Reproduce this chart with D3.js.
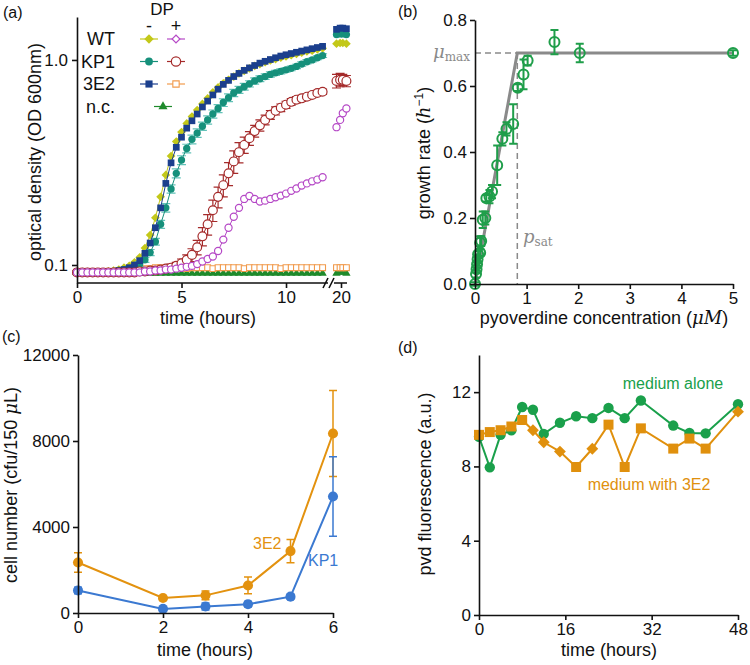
<!DOCTYPE html>
<html>
<head>
<meta charset="utf-8">
<script src="https://cdn.jsdelivr.net/npm/d3@7"></script>
<style>
  body { margin: 0; background: #fff; }
  svg { font-family: "Liberation Sans", Arial, sans-serif; }
</style>
</head>
<body>
<svg id="fig" width="750" height="665"></svg>
<script>
// ---------- (a) growth curves, OD 600nm ----------
var timesA = [0, 0.25, 0.5, 0.75, 1, 1.25, 1.5, 1.75, 2, 2.25, 2.5, 2.75, 3, 3.25, 3.5, 3.75,
  4, 4.25, 4.5, 4.75, 5, 5.25, 5.5, 5.75, 6, 6.25, 6.5, 6.75, 7, 7.25, 7.5, 7.75,
  8, 8.25, 8.5, 8.75, 9, 9.25, 9.5, 9.75, 10, 10.25, 10.5, 10.75, 11, 11.25, 11.5, 11.75];
var wtMinus = [0.092, 0.092, 0.092, 0.092, 0.092, 0.092, 0.093, 0.094, 0.095, 0.097, 0.099, 0.103, 0.109, 0.121, 0.140, 0.170,
  0.215, 0.275, 0.340, 0.400, 0.445, 0.49, 0.53, 0.57, 0.61, 0.65, 0.695, 0.735, 0.77, 0.80, 0.83, 0.86,
  0.885, 0.91, 0.935, 0.955, 0.975, 0.995, 1.01, 1.025, 1.04, 1.055, 1.07, 1.085, 1.10, 1.11, 1.125, 1.14];
var e2Minus = [0.092, 0.092, 0.092, 0.092, 0.092, 0.092, 0.092, 0.093, 0.094, 0.095, 0.097, 0.100, 0.105, 0.114, 0.128, 0.152,
  0.190, 0.250, 0.315, 0.375, 0.42, 0.465, 0.505, 0.545, 0.59, 0.63, 0.675, 0.72, 0.76, 0.795, 0.83, 0.86,
  0.89, 0.915, 0.94, 0.965, 0.985, 1.005, 1.025, 1.045, 1.06, 1.075, 1.09, 1.105, 1.12, 1.135, 1.15, 1.165];
var kp1Minus = [0.092, 0.092, 0.092, 0.092, 0.092, 0.092, 0.092, 0.093, 0.094, 0.095, 0.096, 0.098, 0.101, 0.106, 0.115, 0.130,
  0.158, 0.19, 0.235, 0.28, 0.325, 0.37, 0.41, 0.44, 0.475, 0.51, 0.545, 0.58, 0.62, 0.655, 0.69, 0.715,
  0.74, 0.765, 0.79, 0.81, 0.83, 0.85, 0.865, 0.88, 0.895, 0.91, 0.93, 0.955, 0.98, 1.0, 1.025, 1.05];
var kp1MinusErr = [0.002, 0.002, 0.002, 0.002, 0.002, 0.002, 0.002, 0.002, 0.002, 0.002, 0.002, 0.002, 0.003, 0.003, 0.004, 0.005,
  0.007, 0.009, 0.011, 0.014, 0.016, 0.018, 0.02, 0.021, 0.022, 0.024, 0.025, 0.026, 0.027, 0.028, 0.028, 0.028,
  0.028, 0.027, 0.027, 0.026, 0.026, 0.025, 0.025, 0.024, 0.024, 0.024, 0.023, 0.023, 0.023, 0.022, 0.022, 0.022];
var kp1Plus = [0.092, 0.092, 0.092, 0.092, 0.092, 0.092, 0.092, 0.092, 0.092, 0.092, 0.092, 0.092, 0.093, 0.093, 0.094, 0.094,
  0.095, 0.096, 0.097, 0.099, 0.102, 0.106, 0.112, 0.122, 0.138, 0.158, 0.185, 0.215, 0.245, 0.28, 0.32, 0.355,
  0.385, 0.415, 0.45, 0.48, 0.51, 0.54, 0.565, 0.585, 0.605, 0.625, 0.64, 0.65, 0.662, 0.675, 0.69, 0.70];
var kp1PlusErr = [0.002, 0.002, 0.002, 0.002, 0.002, 0.002, 0.002, 0.002, 0.002, 0.002, 0.002, 0.002, 0.002, 0.002, 0.002, 0.003,
  0.003, 0.003, 0.004, 0.004, 0.005, 0.006, 0.008, 0.01, 0.014, 0.018, 0.022, 0.025, 0.03, 0.036, 0.04, 0.04,
  0.035, 0.032, 0.03, 0.03, 0.028, 0.027, 0.026, 0.025, 0.024, 0.023, 0.022, 0.022, 0.021, 0.021, 0.02, 0.02];
var wtPlus = [0.092, 0.092, 0.092, 0.092, 0.092, 0.092, 0.092, 0.092, 0.092, 0.092, 0.092, 0.092, 0.092, 0.093, 0.093, 0.094,
  0.094, 0.095, 0.095, 0.096, 0.097, 0.098, 0.099, 0.101, 0.104, 0.107, 0.110, 0.117, 0.133, 0.152, 0.172, 0.19,
  0.21, 0.217, 0.21, 0.204, 0.206, 0.21, 0.214, 0.218, 0.223, 0.23, 0.236, 0.244, 0.25, 0.256, 0.261, 0.268];
var e2Plus = [0.092, 0.092, 0.092, 0.092, 0.092, 0.092, 0.093, 0.093, 0.094, 0.094, 0.095, 0.095, 0.096, 0.096, 0.096, 0.097,
  0.097, 0.096, 0.097, 0.097, 0.097, 0.096, 0.097, 0.097, 0.097, 0.097, 0.096, 0.097, 0.097, 0.097, 0.097, 0.097,
  0.096, 0.097, 0.097, 0.097, 0.097, 0.097, 0.097, 0.096, 0.097, 0.097, 0.097, 0.097, 0.097, 0.097, 0.097, 0.097];
var ncSeries = [0.092, 0.092, 0.092, 0.091, 0.091, 0.091, 0.091, 0.091, 0.091, 0.091, 0.091, 0.091, 0.091, 0.091, 0.091, 0.091,
  0.091, 0.091, 0.091, 0.091, 0.091, 0.091, 0.091, 0.091, 0.091, 0.091, 0.091, 0.091, 0.091, 0.091, 0.091, 0.091,
  0.091, 0.091, 0.091, 0.091, 0.091, 0.091, 0.091, 0.091, 0.091, 0.091, 0.091, 0.091, 0.091, 0.091, 0.091, 0.091];
// readings taken around 20 h (after the axis break)
var lateTimes = [19.75, 19.95, 20.1, 20.3];
var wtMinusLate = [1.20, 1.21, 1.21, 1.20];
var kp1MinusLate = [1.33, 1.34, 1.34, 1.33];
var e2MinusLate = [1.41, 1.43, 1.43, 1.42];
var kp1PlusLate = [0.79, 0.80, 0.80, 0.79];
var kp1PlusLateErr = [0.06, 0.06, 0.05, 0.05];
var wtPlusLate = [0.47, 0.51, 0.55, 0.58];
var e2PlusLate = [0.097, 0.097, 0.097, 0.097];
var ncLate = [0.091, 0.092, 0.092, 0.091];
var strainLabels = ["WT", "KP1", "3E2", "n.c."];
var ticksA_x = [0, 5, 10, 20];
var ticksA_y = [0.1, 1.0];

// ---------- (b) growth rate vs pyoverdine ----------
var pvdConc = [0, 0.02, 0.03, 0.04, 0.05, 0.06, 0.1, 0.1, 0.12, 0.15, 0.2, 0.22, 0.28, 0.33, 0.43, 0.53, 0.61, 0.74, 0.83, 0.94, 1.02, 1.54, 2.03, 5.0];
var growthRate = [0.0, 0.03, 0.045, 0.06, 0.075, 0.09, 0.095, 0.125, 0.13, 0.195, 0.2, 0.26, 0.265, 0.28, 0.36, 0.44, 0.47, 0.485, 0.595, 0.635, 0.677, 0.733, 0.70, 0.70];
var growthErr = [0.005, 0.01, 0.01, 0.01, 0.01, 0.01, 0.01, 0.02, 0.015, 0.025, 0.02, 0.01, 0.02, 0.02, 0.06, 0.02, 0.02, 0.06, 0.01, 0.045, 0.015, 0.037, 0.028, 0.008];
var fitConc = [0, 0.82, 5];
var fitRate = [0, 0.70, 0.70];
var muMax = 0.70, pSat = 0.82;
var ticksB_x = [0, 1, 2, 3, 4, 5];
var ticksB_y = [0, 0.2, 0.4, 0.6, 0.8];

// ---------- (c) cell number ----------
var timesC = [0, 2, 3, 4, 5, 6];
var e2Cells = [2350, 700, 820, 1280, 2880, 8350];
var e2CellsErr = [450, 60, 200, 390, 540, 2000];
var kp1Cells = [1050, 190, 300, 410, 760, 5420];
var kp1CellsErr = [150, 60, 160, 120, 110, 1850];
var ticksC_x = [0, 2, 4, 6];
var ticksC_y = [0, 4000, 8000, 12000];

// ---------- (d) pvd fluorescence ----------
var timesD = [0, 2, 4, 6, 8, 10, 12, 15, 18, 21, 24, 27, 30, 36, 39, 42, 48];
var aloneFluo = [9.6, 7.95, 9.7, 9.95, 11.2, 11.05, 9.75, 10.35, 10.7, 10.6, 11.15, 10.6, 11.55, 10.2, 9.8, 9.78, 11.35];
var withE2Fluo = [9.7, 9.85, 9.95, 10.15, 10.5, 9.95, 9.3, 8.8, 7.97, 8.95, 10.25, 7.97, 10.05, 8.96, 9.5, 8.96, 10.95];
var withE2Marker = ["s", "s", "s", "s", "s", "d", "d", "d", "s", "d", "s", "s", "s", "s", "s", "s", "d"];
var ticksD_x = [0, 16, 32, 48];
var ticksD_y = [0, 4, 8, 12];

var ink = "#111";
var svg = d3.select("#fig");

function styleAxis(g) {
  g.selectAll("path, line").attr("stroke", ink).attr("stroke-width", 1.6);
  g.selectAll("text").attr("font-size", 17).attr("fill", ink);
}

function errBars(g, xs, ys, es, x, y, color, cap, width) {
  g.selectAll(null).data(xs).enter().append("path")
    .attr("d", function (d, i) {
      var px = x(d), y0 = y(ys[i] - es[i]), y1 = y(ys[i] + es[i]);
      return "M" + px + "," + y0 + "V" + y1 +
        "M" + (px - cap) + "," + y0 + "H" + (px + cap) +
        "M" + (px - cap) + "," + y1 + "H" + (px + cap);
    })
    .attr("fill", "none").attr("stroke", color).attr("stroke-width", width || 1.2);
}

function seriesLine(g, xs, ys, x, y, color, w) {
  var pts = xs.map(function (d, i) { return [x(d), y(ys[i])]; });
  g.append("path").attr("d", d3.line()(pts))
    .attr("fill", "none").attr("stroke", color).attr("stroke-width", w || 1);
}

function marks(g, xs, ys, x, y, type, size, fill, stroke, sw, rot) {
  var sym = d3.symbol().type(type).size(size);
  g.selectAll(null).data(xs).enter().append("path")
    .attr("d", sym)
    .attr("transform", function (d, i) {
      return "translate(" + x(d) + "," + y(ys[i]) + ")" + (rot ? " rotate(45)" : "");
    })
    .attr("fill", fill).attr("stroke", stroke).attr("stroke-width", sw || 0);
}

// =============== panel (a) ===============
var gA = svg.append("g");
var xA = d3.scaleLinear().domain([0, 12.2, 19.5, 20.5]).range([77, 332, 332, 350]);
var yA = d3.scaleLog().domain([0.0817, 1.62]).range([283, 17]);

var colA = {
  wtM: "#c3c819", wtP: "#b548c6", kpM: "#16907b", kpP: "#a52b2b",
  e2M: "#1b3f8d", e2P: "#f19a4c", nc: "#1e8a2b"
};

var series = [
  { t: timesA, v: ncSeries, vl: ncLate, c: colA.nc, type: d3.symbolTriangle, size: 30, fill: colA.nc },
  { t: timesA, v: e2Plus, vl: e2PlusLate, c: colA.e2P, type: d3.symbolSquare, size: 34, fill: "#fff", sw: 1.1 },
  { t: timesA, v: wtMinus, vl: wtMinusLate, c: colA.wtM, type: d3.symbolSquare, size: 38, fill: colA.wtM, rot: true },
  { t: timesA, v: kp1Minus, vl: kp1MinusLate, c: colA.kpM, type: d3.symbolCircle, size: 42, fill: colA.kpM, err: kp1MinusErr, errc: "#62c2b8" },
  { t: timesA, v: e2Minus, vl: e2MinusLate, c: colA.e2M, type: d3.symbolSquare, size: 45, fill: colA.e2M },
  { t: timesA, v: kp1Plus, vl: kp1PlusLate, c: colA.kpP, type: d3.symbolCircle, size: 62, fill: "#fff", sw: 1.2, err: kp1PlusErr, errl: kp1PlusLateErr, errc: colA.kpP },
  { t: timesA, v: wtPlus, vl: wtPlusLate, c: colA.wtP, type: d3.symbolCircle, size: 40, fill: "#fff", sw: 1.2 }
];

series.forEach(function (s) {
  if (s.err) {
    errBars(gA, s.t, s.v, s.err, xA, yA, s.errc, 4.5, 1.2);
    if (s.errl) errBars(gA, lateTimes, s.vl, s.errl, xA, yA, s.errc, 4.5, 1.2);
  }
  seriesLine(gA, s.t, s.v, xA, yA, s.c, 1);
  seriesLine(gA, lateTimes, s.vl, xA, yA, s.c, 1);
  marks(gA, s.t, s.v, xA, yA, s.type, s.size, s.fill, s.c, s.sw, s.rot);
  marks(gA, lateTimes, s.vl, xA, yA, s.type, s.size, s.fill, s.c, s.sw, s.rot);
});

gA.append("g").attr("transform", "translate(77,0)")
  .call(d3.axisLeft(yA).tickValues(ticksA_y).tickFormat(d3.format(".1f")).tickSize(5).tickSizeOuter(0).tickPadding(4))
  .call(styleAxis);
var axA = gA.append("g").attr("transform", "translate(0,283)")
  .call(d3.axisBottom(xA).tickValues(ticksA_x).tickFormat(d3.format("d")).tickSize(5).tickPadding(3))
  .call(styleAxis);
axA.select(".domain").remove();
// broken x axis line
gA.append("path")
  .attr("d", "M77,283H" + (xA(12.2) - 4) + "M" + (xA(19.5) + 2) + ",283H" + (xA(20.5) - 3) +
    "M" + (xA(12.2) - 9) + ",288L" + (xA(12.2) - 4) + ",278" +
    "M" + (xA(12.2) - 3) + ",288L" + (xA(12.2) + 2) + ",278")
  .attr("fill", "none").attr("stroke", ink).attr("stroke-width", 1.6);

gA.append("text").attr("x", 208).attr("y", 324).attr("text-anchor", "middle")
  .attr("font-size", 18).attr("fill", ink).text("time (hours)");
gA.append("text").attr("transform", "translate(41,152) rotate(-90)").attr("text-anchor", "middle")
  .attr("font-size", 18).attr("fill", ink).text("optical density (OD 600nm)");

// legend
var legMinusX = 149, legPlusX = 176, legNcX = 163;
gA.append("text").attr("x", 162).attr("y", 15).attr("text-anchor", "middle").attr("font-size", 17).attr("fill", ink).text("DP");
gA.append("text").attr("x", 149).attr("y", 32).attr("text-anchor", "middle").attr("font-size", 18).attr("fill", ink).text("-");
gA.append("text").attr("x", 176).attr("y", 32).attr("text-anchor", "middle").attr("font-size", 18).attr("fill", ink).text("+");
var legRows = [
  { m: series[2], p: series[6], pType: d3.symbolSquare, pRot: true, pSize: 30 },
  { m: series[3], p: series[5] },
  { m: series[4], p: series[1] },
  { nc: series[0] }
];
strainLabels.forEach(function (lab, i) {
  var cy = 39 + i * 22.5;
  gA.append("text").attr("x", 115).attr("y", cy + 6).attr("text-anchor", "end")
    .attr("font-size", 18).attr("fill", ink).text(lab);
  var row = legRows[i];
  function legItem(cx, s, type, size, rot) {
    gA.append("line").attr("x1", cx - 9).attr("x2", cx + 9).attr("y1", cy).attr("y2", cy)
      .attr("stroke", s.c).attr("stroke-width", 1.2);
    gA.append("path").attr("d", d3.symbol().type(type || s.type).size(size || s.size + 6))
      .attr("transform", "translate(" + cx + "," + cy + ")" + (rot || s.rot ? " rotate(45)" : ""))
      .attr("fill", s.fill).attr("stroke", s.c).attr("stroke-width", s.sw || 0);
  }
  if (row.nc) {
    legItem(legNcX, row.nc);
  } else {
    legItem(legMinusX, row.m);
    legItem(legPlusX, row.p, row.pType, row.pSize, row.pRot);
  }
});
gA.append("text").attr("x", 3).attr("y", 18).attr("font-size", 16).attr("fill", ink).text("(a)");

// =============== panel (b) ===============
var gB = svg.append("g");
var xB = d3.scaleLinear().domain([0, 5]).range([475, 733]);
var yB = d3.scaleLinear().domain([0, 0.8]).range([284, 20]);
var greenB = "#1f9e4a", grayB = "#8a8a8a";

gB.append("path").attr("d", "M" + xB(0) + "," + yB(muMax) + "H" + xB(pSat))
  .attr("stroke", grayB).attr("stroke-width", 1.5).attr("stroke-dasharray", "6,4");
gB.append("path").attr("d", "M" + xB(pSat) + "," + yB(muMax) + "V" + yB(0))
  .attr("stroke", grayB).attr("stroke-width", 1.5).attr("stroke-dasharray", "6,4");
seriesLine(gB, fitConc, fitRate, xB, yB, grayB, 3);

errBars(gB, pvdConc, growthRate, growthErr, xB, yB, greenB, 4, 2);
gB.selectAll(null).data(pvdConc).enter().append("circle")
  .attr("cx", function (d) { return xB(d); })
  .attr("cy", function (d, i) { return yB(growthRate[i]); })
  .attr("r", 5).attr("fill", "none").attr("stroke", greenB).attr("stroke-width", 2);

gB.append("g").attr("transform", "translate(475,0)")
  .call(d3.axisLeft(yB).tickValues(ticksB_y).tickFormat(d3.format(".1f")).tickSize(5).tickSizeOuter(0).tickPadding(3))
  .call(styleAxis);
gB.append("g").attr("transform", "translate(0,284)")
  .call(d3.axisBottom(xB).tickValues(ticksB_x).tickFormat(d3.format("d")).tickSize(5).tickSizeOuter(0).tickPadding(3))
  .call(styleAxis);

var muLab = gB.append("text").attr("x", 433).attr("y", 58).attr("fill", grayB)
  .attr("font-family", "'DejaVu Serif', 'Liberation Serif', serif");
muLab.append("tspan").attr("font-size", 18).attr("font-style", "italic").text("μ");
muLab.append("tspan").attr("font-size", 12).attr("dy", 3).text("max");
var psLab = gB.append("text").attr("x", 523).attr("y", 243).attr("fill", grayB)
  .attr("font-family", "'DejaVu Serif', 'Liberation Serif', serif");
psLab.append("tspan").attr("font-size", 18).attr("font-style", "italic").text("p");
psLab.append("tspan").attr("font-size", 12).attr("dy", 3).text("sat");

var yLabB = gB.append("text").attr("transform", "translate(430,153) rotate(-90)").attr("text-anchor", "middle")
  .attr("font-size", 18).attr("fill", ink);
yLabB.append("tspan").text("growth rate (");
yLabB.append("tspan").attr("font-family", "'DejaVu Serif', serif").attr("font-style", "italic").text("h");
yLabB.append("tspan").attr("font-size", 12).attr("dy", -7).text("−1");
yLabB.append("tspan").attr("dy", 7).text(")");
var xLabB = gB.append("text").attr("x", 604).attr("y", 324).attr("text-anchor", "middle")
  .attr("font-size", 18).attr("fill", ink);
xLabB.append("tspan").text("pyoverdine concentration (");
xLabB.append("tspan").attr("font-family", "'DejaVu Serif', serif").attr("font-style", "italic").text("μM");
xLabB.append("tspan").text(")");
gB.append("text").attr("x", 398).attr("y", 17).attr("font-size", 16).attr("fill", ink).text("(b)");

// =============== panel (c) ===============
var gC = svg.append("g");
var xC = d3.scaleLinear().domain([0, 6]).range([78, 333]);
var yC = d3.scaleLinear().domain([0, 12000]).range([613, 355]);
var orangeC = "#e3920f", blueC = "#3b79d1";

errBars(gC, timesC, e2Cells, e2CellsErr, xC, yC, orangeC, 4, 1.5);
errBars(gC, timesC, kp1Cells, kp1CellsErr, xC, yC, blueC, 4, 1.5);
seriesLine(gC, timesC, e2Cells, xC, yC, orangeC, 2);
seriesLine(gC, timesC, kp1Cells, xC, yC, blueC, 2);
marks(gC, timesC, e2Cells, xC, yC, d3.symbolCircle, 80, orangeC, orangeC, 0);
marks(gC, timesC, kp1Cells, xC, yC, d3.symbolCircle, 80, blueC, blueC, 0);

gC.append("g").attr("transform", "translate(78,0)")
  .call(d3.axisLeft(yC).tickValues(ticksC_y).tickFormat(d3.format("d")).tickSize(5).tickSizeOuter(0).tickPadding(3))
  .call(styleAxis);
gC.append("g").attr("transform", "translate(0,613)")
  .call(d3.axisBottom(xC).tickValues(ticksC_x).tickFormat(d3.format("d")).tickSize(5).tickSizeOuter(0).tickPadding(3))
  .call(styleAxis);
gC.append("text").attr("x", 253).attr("y", 549).attr("text-anchor", "start").attr("font-size", 16).attr("fill", orangeC).text("3E2");
gC.append("text").attr("x", 308).attr("y", 566).attr("text-anchor", "start").attr("font-size", 16).attr("fill", blueC).text("KP1");
gC.append("text").attr("x", 205).attr("y", 656).attr("text-anchor", "middle").attr("font-size", 18).attr("fill", ink).text("time (hours)");
var yLabC = gC.append("text").attr("transform", "translate(17,485) rotate(-90)").attr("text-anchor", "middle")
  .attr("font-size", 18).attr("fill", ink);
yLabC.append("tspan").text("cell number (cfu/150 ");
yLabC.append("tspan").attr("font-family", "'DejaVu Serif', serif").attr("font-style", "italic").text("μ");
yLabC.append("tspan").text("L)");
gC.append("text").attr("x", 2).attr("y", 342).attr("font-size", 16).attr("fill", ink).text("(c)");

// =============== panel (d) ===============
var gD = svg.append("g");
var xD = d3.scaleLinear().domain([0, 48]).range([479, 738]);
var yD = d3.scaleLinear().domain([0, 14]).range([615, 355]);
var greenD = "#1aa04b", orangeD = "#e0900d";

seriesLine(gD, timesD, aloneFluo, xD, yD, greenD, 2);
marks(gD, timesD, aloneFluo, xD, yD, d3.symbolCircle, 85, greenD, greenD, 0);
seriesLine(gD, timesD, withE2Fluo, xD, yD, orangeD, 2);
gD.selectAll(null).data(timesD).enter().append("path")
  .attr("d", function (d, i) { return d3.symbol().type(d3.symbolSquare).size(withE2Marker[i] === "s" ? 100 : 70)(); })
  .attr("transform", function (d, i) {
    return "translate(" + xD(d) + "," + yD(withE2Fluo[i]) + ")" + (withE2Marker[i] === "d" ? " rotate(45)" : "");
  })
  .attr("fill", orangeD);

gD.append("g").attr("transform", "translate(479,0)")
  .call(d3.axisLeft(yD).tickValues(ticksD_y).tickFormat(d3.format("d")).tickSize(5).tickSizeOuter(0).tickPadding(3))
  .call(styleAxis);
gD.append("g").attr("transform", "translate(0,615)")
  .call(d3.axisBottom(xD).tickValues(ticksD_x).tickFormat(d3.format("d")).tickSize(5).tickSizeOuter(0).tickPadding(3))
  .call(styleAxis);
gD.append("text").attr("x", 673).attr("y", 389).attr("text-anchor", "middle").attr("font-size", 16).attr("fill", greenD).text("medium alone");
gD.append("text").attr("x", 649).attr("y", 490).attr("text-anchor", "middle").attr("font-size", 16).attr("fill", orangeD).text("medium with 3E2");
gD.append("text").attr("x", 609).attr("y", 656).attr("text-anchor", "middle").attr("font-size", 18).attr("fill", ink).text("time (hours)");
gD.append("text").attr("transform", "translate(431,484) rotate(-90)").attr("text-anchor", "middle")
  .attr("font-size", 18).attr("fill", ink).text("pvd fluorescence (a.u.)");
gD.append("text").attr("x", 398).attr("y", 353).attr("font-size", 16).attr("fill", ink).text("(d)");
</script>
</body>
</html>
